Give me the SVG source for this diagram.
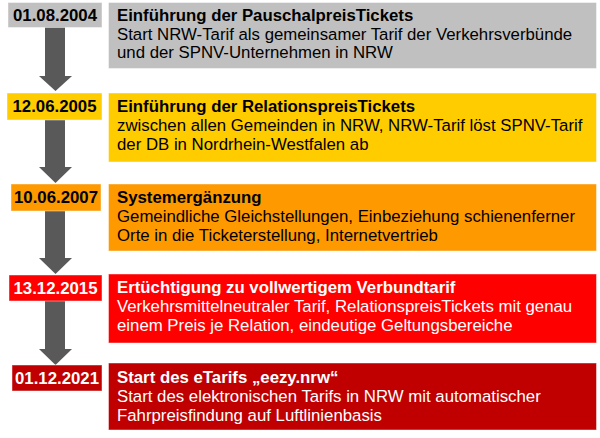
<svg xmlns="http://www.w3.org/2000/svg" width="600" height="438" viewBox="0 0 600 438">
<style>
.box{stroke:#ffffff;stroke-opacity:0.45;stroke-width:1}
.t{font-family:"Liberation Sans",Arial,sans-serif;font-size:16.8px}
.b{font-weight:bold}
.d{font-family:"Liberation Sans",Arial,sans-serif;font-size:16.8px;font-weight:bold;text-anchor:middle}
.dk{fill:#000000}
.wh{fill:#ffffff}
.arr{fill:#595959}
</style>
<rect width="600" height="438" fill="#ffffff"/>
<g id="connectors">
<polygon class="arr" points="45,27 65,27 65,76 72,76 55.5,91 39,76 45,76"/>
<polygon class="arr" points="45,120 65,120 65,167 72,167 55.5,183 39,167 45,167"/>
<polygon class="arr" points="45,211 65,211 65,258 72,258 55.5,274 39,258 45,258"/>
<polygon class="arr" points="45,301 65,301 65,349 72,349 55.5,365 39,349 45,349"/>
</g>
<g id="node-2004">
<rect class="box" x="8" y="2.5" width="94" height="25" fill="#C0C0C0"/>
<text class="d dk" x="55" y="21">01.08.2004</text>
<rect class="box" x="108.5" y="2.5" width="488" height="66" fill="#C0C0C0"/>
<text class="t b dk" x="117" y="21">Einführung der PauschalpreisTickets</text>
<text class="t dk" x="117" y="39.5">Start NRW-Tarif als gemeinsamer Tarif der Verkehrsverbünde</text>
<text class="t dk" x="117" y="58">und der SPNV-Unternehmen in NRW</text>
</g>
<g id="node-2005">
<rect class="box" x="7" y="93" width="95" height="27" fill="#FFCC00"/>
<text class="d dk" x="54.5" y="112">12.06.2005</text>
<rect class="box" x="108.5" y="93" width="488" height="69" fill="#FFCC00"/>
<text class="t b dk" x="117" y="112">Einführung der RelationspreisTickets</text>
<text class="t dk" x="117" y="131">zwischen allen Gemeinden in NRW, NRW-Tarif löst SPNV-Tarif</text>
<text class="t dk" x="117" y="150">der DB in Nordrhein-Westfalen ab</text>
</g>
<g id="node-2007">
<rect class="box" x="11" y="184" width="90" height="27" fill="#FF9900"/>
<text class="d dk" x="56" y="203">10.06.2007</text>
<rect class="box" x="108.5" y="184" width="488" height="67" fill="#FF9900"/>
<text class="t b dk" x="117" y="203">Systemergänzung</text>
<text class="t dk" x="117" y="222">Gemeindliche Gleichstellungen, Einbeziehung schienenferner</text>
<text class="t dk" x="117" y="241">Orte in die Ticketerstellung, Internetvertrieb</text>
</g>
<g id="node-2015">
<rect class="box" x="9" y="275" width="93" height="26" fill="#FF0000"/>
<text class="d wh" x="55.5" y="293.5">13.12.2015</text>
<rect class="box" x="108.5" y="274" width="488" height="69" fill="#FF0000"/>
<text class="t b wh" x="117" y="293">Ertüchtigung zu vollwertigem Verbundtarif</text>
<text class="t wh" x="117" y="312">Verkehrsmittelneutraler Tarif, RelationspreisTickets mit genau</text>
<text class="t wh" x="117" y="331">einem Preis je Relation, eindeutige Geltungsbereiche</text>
</g>
<g id="node-2021">
<rect class="box" x="12" y="365" width="90" height="26" fill="#C00000"/>
<text class="d wh" x="57" y="383.5">01.12.2021</text>
<rect class="box" x="108.5" y="363" width="488" height="67" fill="#C00000"/>
<text class="t b wh" x="117" y="382.5">Start des eTarifs „eezy.nrw“</text>
<text class="t wh" x="117" y="402">Start des elektronischen Tarifs in NRW mit automatischer</text>
<text class="t wh" x="117" y="421">Fahrpreisfindung auf Luftlinienbasis</text>
</g>
</svg>
